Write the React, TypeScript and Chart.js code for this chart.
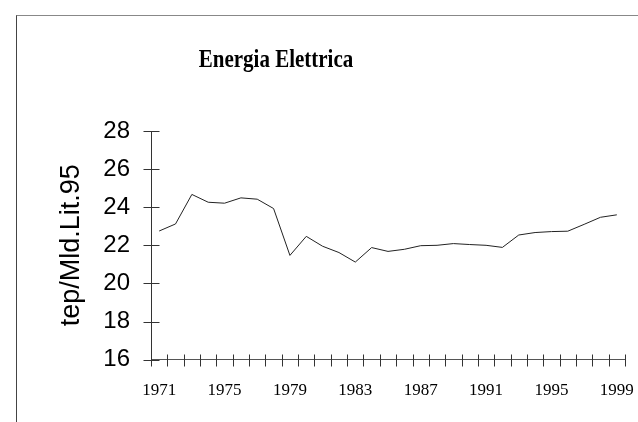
import React, { useEffect, useRef } from "react";
import { Chart, registerables } from "chart.js";

Chart.register(...registerables);

const years: string[] = [
  "1971", "1972", "1973", "1974", "1975", "1976", "1977", "1978", "1979", "1980",
  "1981", "1982", "1983", "1984", "1985", "1986", "1987", "1988", "1989", "1990",
  "1991", "1992", "1993", "1994", "1995", "1996", "1997", "1998", "1999",
];

const energiaElettrica: number[] = [
  22.75, 23.12, 24.67, 24.26, 24.21, 24.49, 24.42, 23.93, 21.47, 22.47,
  21.95, 21.62, 21.12, 21.88, 21.68, 21.79, 21.98, 22.0, 22.09, 22.04,
  22.0, 21.89, 22.54, 22.67, 22.72, 22.74, 23.1, 23.47, 23.6,
];

const yMin = 16;
const yMax = 28;
const yStep = 2;

const chartTitle = "Energia Elettrica";
const yTitle = "tep/Mld.Lit.95";

const SERIF = '"Liberation Serif", "Times New Roman", serif';
const SANS = '"Liberation Sans", Arial, sans-serif';

const tickMarks = {
  id: "tickMarks",
  afterDraw(chart: any) {
    const { ctx } = chart;
    const x = chart.scales.x;
    const y = chart.scales.y;
    ctx.save();
    ctx.strokeStyle = "#333";
    ctx.lineWidth = 1;
    ctx.beginPath();
    const n = x.getLabels().length;
    const p0 = x.getPixelForValue(0);
    const step = x.getPixelForValue(1) - p0;
    const base = Math.round(y.bottom) + 0.5;
    for (let i = 0; i <= n; i++) {
      const px = Math.round(p0 + (i - 0.5) * step) + 0.5;
      ctx.moveTo(px, base - 6);
      ctx.lineTo(px, base + 6);
    }
    const axisX = Math.round(x.left) + 0.5;
    y.ticks.forEach((t: any) => {
      const py = Math.round(y.getPixelForValue(t.value)) + 0.5;
      ctx.moveTo(axisX - 8, py);
      ctx.lineTo(axisX + 8, py);
    });
    ctx.stroke();
    ctx.restore();
  },
};

export default function App() {
  const canvasRef = useRef<HTMLCanvasElement | null>(null);

  useEffect(() => {
    const canvas = canvasRef.current;
    if (!canvas) return;
    const chart = new Chart(canvas, {
      type: "line",
      data: {
        labels: years,
        datasets: [
          {
            data: energiaElettrica,
            borderColor: "#222",
            borderWidth: 1,
            pointRadius: 0,
            tension: 0,
            fill: false,
          },
        ],
      },
      options: {
        animation: false,
        responsive: false,
        devicePixelRatio: 1,
        layout: { padding: { left: 55, right: 13, top: 131, bottom: 0 } },
        plugins: {
          legend: { display: false },
          tooltip: { enabled: false },
          title: { display: false },
        },
        scales: {
          x: {
            type: "category",
            offset: true,
            grid: { display: false, drawTicks: false, offset: true },
            border: { display: true, color: "#555", width: 1 },
            ticks: {
              autoSkip: false,
              maxRotation: 0,
              minRotation: 0,
              padding: 21,
              color: "#000",
              font: { family: SERIF, size: 17 },
              callback: (_v: any, i: number) => (i % 4 === 0 ? years[i] : ""),
            },
            afterFit: (s: any) => {
              s.paddingLeft = 0;
              s.paddingRight = 0;
            },
          },
          y: {
            min: yMin,
            max: yMax,
            grid: { display: false, drawTicks: false },
            border: { display: true, color: "#333", width: 1 },
            ticks: {
              stepSize: yStep,
              padding: 21,
              color: "#000",
              font: { family: SANS, size: 24 },
            },
            title: {
              display: true,
              text: yTitle,
              color: "#000",
              font: { family: SANS, size: 27 },
              padding: { top: 0, bottom: 0 },
            },
            afterFit: (s: any) => {
              s.width = 96;
              s.paddingTop = 0;
              s.paddingBottom = 0;
            },
          },
        },
      },
      plugins: [tickMarks],
    } as any);
    return () => chart.destroy();
  }, []);

  return (
    <div style={{ position: "fixed", left: 0, top: 0, width: 638, height: 422, background: "#fff" }}>
      <div
        style={{
          position: "absolute",
          left: 16,
          top: 15,
          right: 0,
          bottom: 0,
          borderTop: "1px solid #888",
          borderLeft: "1px solid #444",
        }}
      />
      <canvas ref={canvasRef} width={638} height={422} style={{ position: "absolute", left: 0, top: 0 }} />
      <div
        style={{
          position: "absolute",
          left: 0,
          top: 47,
          width: 552,
          textAlign: "center",
          fontFamily: SERIF,
          fontWeight: "bold",
          fontSize: 21,
          lineHeight: "24px",
          color: "#000",
          transform: "scaleY(1.15)",
          whiteSpace: "nowrap",
        }}
      >
        {chartTitle}
      </div>
    </div>
  );
}
